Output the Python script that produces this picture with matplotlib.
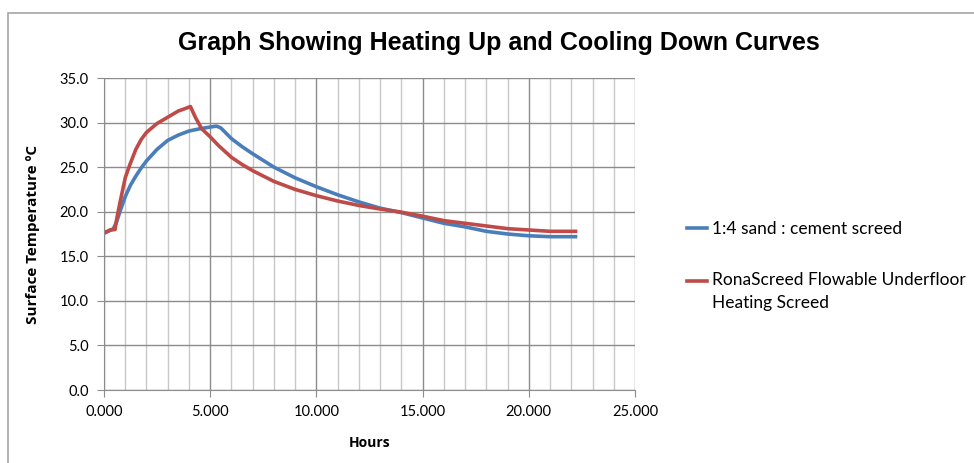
import numpy as np
import matplotlib.pyplot as plt
from matplotlib.patches import Rectangle
from matplotlib.ticker import MultipleLocator, FormatStrFormatter
from matplotlib.legend_handler import HandlerLine2D

# Readings from the chart (hours, surface temperature in C)
sand_hours = [0.0, 0.2, 0.44, 0.6, 0.75, 1.0, 1.25, 1.5, 1.75, 2.0, 2.5, 3.0, 3.5, 4.0, 4.5,
              5.0, 5.3, 5.5, 5.75, 6.0, 6.5, 7.0, 8.0, 9.0, 10.0, 11.0, 12.0, 13.0, 14.0,
              15.0, 16.0, 17.0, 18.0, 19.0, 20.0, 21.0, 22.2]
sand_temp = [17.6, 17.8, 18.1, 18.9, 20.0, 21.7, 23.0, 24.0, 24.9, 25.7, 27.0, 28.0, 28.6, 29.05, 29.3,
             29.5, 29.6, 29.4, 28.8, 28.2, 27.3, 26.5, 25.0, 23.8, 22.8, 21.9, 21.1, 20.4, 19.9,
             19.3, 18.7, 18.3, 17.8, 17.5, 17.3, 17.2, 17.2]

rona_hours = [0.0, 0.28, 0.52, 0.6, 0.75, 1.0, 1.22, 1.5, 1.75, 2.0, 2.5, 3.0, 3.5, 3.8, 4.07,
              4.3, 4.6, 5.0, 5.4, 6.0, 6.5, 7.0, 8.0, 9.0, 10.0, 11.0, 12.0, 13.0, 14.0,
              15.0, 16.0, 17.0, 18.0, 19.0, 20.0, 21.0, 22.2]
rona_temp = [17.6, 17.95, 18.0, 19.2, 21.0, 23.8, 25.3, 27.0, 28.1, 28.9, 29.9, 30.6, 31.3, 31.55, 31.8,
             30.6, 29.3, 28.4, 27.4, 26.1, 25.3, 24.6, 23.4, 22.5, 21.8, 21.2, 20.7, 20.3, 19.95,
             19.5, 19.0, 18.7, 18.4, 18.1, 17.95, 17.8, 17.8]

sand_label = "1:4 sand : cement screed"
rona_label = "RonaScreed Flowable Underfloor\nHeating Screed"


class FirstLineHandler(HandlerLine2D):
    # puts the legend line level with the first line of a two-line label
    def __init__(self, shift, **kw):
        super().__init__(**kw)
        self.shift = shift

    def create_artists(self, legend, orig_handle, xdescent, ydescent, width, height,
                       fontsize, trans):
        artists = super().create_artists(legend, orig_handle, xdescent, ydescent,
                                         width, height, fontsize, trans)
        for a in artists:
            a.set_ydata(np.asarray(a.get_ydata()) + self.shift)
        return artists


plt.rcParams['font.family'] = ['Lato', 'DejaVu Sans']

fig = plt.figure(figsize=(9.74, 4.63), dpi=100)
fig.patches.append(Rectangle((8 / 974, -0.1), 2.0, 1.1 - 13 / 463, transform=fig.transFigure,
                             fill=False, edgecolor='#a6a6a6', linewidth=1.2))

ax = fig.add_axes([104 / 974, 1 - 390 / 463, (635 - 104) / 974, (390 - 78) / 463])

sand_line, = ax.plot(sand_hours, sand_temp, color='#4a7ebb', linewidth=2.6, label=sand_label,
                     solid_joinstyle='round')
rona_line, = ax.plot(rona_hours, rona_temp, color='#be4b48', linewidth=2.6, label=rona_label,
                     solid_joinstyle='round')

ax.set_xlim(0, 25)
ax.set_ylim(0, 35)
ax.xaxis.set_major_locator(MultipleLocator(5))
ax.xaxis.set_minor_locator(MultipleLocator(1))
ax.yaxis.set_major_locator(MultipleLocator(5))
ax.xaxis.set_major_formatter(FormatStrFormatter('%.3f'))
ax.yaxis.set_major_formatter(FormatStrFormatter('%.1f'))

ax.grid(which='major', axis='both', color='#8c8c8c', linewidth=1.0)
ax.grid(which='minor', axis='x', color='#c8c8c8', linewidth=1.0)
ax.set_axisbelow(True)
for side in ['top', 'right']:
    ax.spines[side].set_visible(False)
for side in ['left', 'bottom']:
    ax.spines[side].set_color('#8c8c8c')
ax.tick_params(which='major', direction='out', length=5, color='#8c8c8c',
               labelsize=10.5, pad=6)
ax.tick_params(which='minor', length=0)

ax.set_xlabel("Hours", fontsize=10, fontweight='bold', labelpad=12, family='Open Sans')
ax.set_ylabel("Surface Temperature ºC", fontsize=11, fontweight='bold', labelpad=14,
              family='Open Sans')
fig.text(0.512, 1 - 43 / 463, "Graph Showing Heating Up and Cooling Down Curves",
         ha='center', va='center', fontsize=18, fontweight='bold',
         family=['Liberation Sans Narrow', 'Liberation Sans'])

leg = ax.legend(loc='center left', bbox_to_anchor=(1.068, 0.398), frameon=False,
                fontsize=12.5, handlelength=1.15, labelspacing=2.0, handletextpad=0.3,
                handler_map={rona_line: FirstLineHandler(7.5)})
for t in leg.get_texts():
    t.set_linespacing(1.55)

fig.savefig("out.png", dpi=100)
